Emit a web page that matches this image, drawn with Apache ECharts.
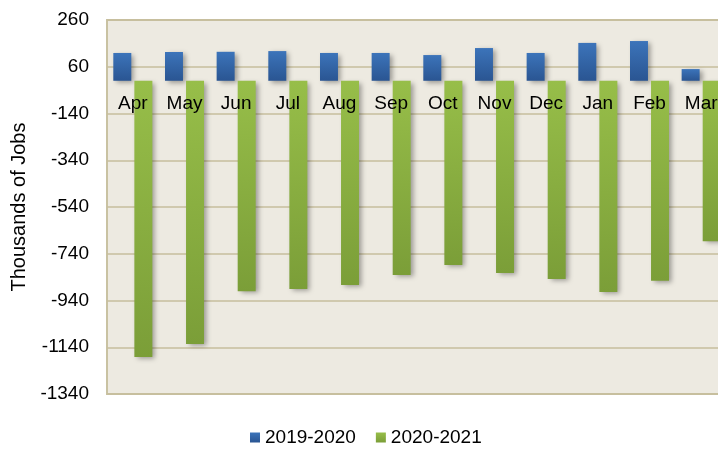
<!DOCTYPE html>
<html>
<head>
<meta charset="utf-8">
<script src="https://cdn.jsdelivr.net/npm/echarts@6/dist/echarts.min.js"></script>
<style>
  html, body { margin: 0; padding: 0; background: #fff; }
  #demo { width: 718px; height: 450px; }
</style>
</head>
<body>
<div id="demo"></div>
<script>
const months = ['Apr', 'May', 'Jun', 'Jul', 'Aug', 'Sep', 'Oct', 'Nov', 'Dec', 'Jan', 'Feb', 'Mar']
const jobs1920 = [119, 123, 124, 127, 119, 119, 110, 140, 119, 162, 170, 50]
const jobs2021 = [-1182, -1126, -900, -891, -874, -831, -788, -822, -848, -904, -856, -686]
const seriesNames = ['2019-2020', '2020-2021']

const font = 'Liberation Sans, Arial, sans-serif'

// y range of the plot, plot box in px
const yMin = -1340
const yMax = 260
const gridTop = 20
const gridBottom = 56
const plotH = 450 - gridTop - gridBottom
// move the category axis up from the bottom edge to the zero line
const zeroOffset = -plotH * (0 - yMin) / (yMax - yMin)

function grad(top, bottom) {
  return new echarts.graphic.LinearGradient(0, 0, 0, 1, [
    { offset: 0, color: top },
    { offset: 1, color: bottom },
  ])
}

const barShadow = {
  shadowColor: 'rgba(0,0,0,0.35)',
  shadowBlur: 5,
  shadowOffsetX: 3,
  shadowOffsetY: 2,
}

const option = {
  backgroundColor: '#fff',
  animation: false,
  textStyle: { fontFamily: font },
  grid: {
    left: 107,
    top: gridTop,
    width: 620, // plot runs past the right edge of the picture
    bottom: gridBottom,
    outerBoundsMode: 'none',
    containLabel: false,
    show: true,
    backgroundColor: '#EDEAE1',
    borderColor: '#C9C2A2',
    borderWidth: 2,
  },
  legend: {
    data: seriesNames,
    left: 245,
    top: 423,
    itemWidth: 10,
    itemHeight: 10,
    itemGap: 20,
    icon: 'rect',
    textStyle: { fontSize: 19, color: '#000', fontFamily: font },
  },
  xAxis: {
    type: 'category',
    data: months,
    z: 10,
    position: 'bottom',
    offset: zeroOffset,
    axisLine: { show: false, onZero: false },
    axisTick: { show: false },
    axisLabel: { fontSize: 19, color: '#000', margin: 13, fontFamily: font },
    splitLine: { show: false },
  },
  yAxis: {
    type: 'value',
    min: yMin,
    max: yMax,
    interval: 200,
    name: 'Thousands of Jobs',
    nameLocation: 'middle',
    nameGap: 78,
    nameTextStyle: { fontSize: 20, color: '#000', fontFamily: font },
    axisLine: { show: false },
    axisTick: { show: false },
    axisLabel: {
      fontSize: 19,
      color: '#000',
      margin: 18,
      fontFamily: font,
      formatter: v => String(v),
    },
    splitLine: { lineStyle: { color: '#C6BE9C', width: 1.5 } },
  },
  series: [
    {
      name: seriesNames[0],
      type: 'bar',
      data: jobs1920,
      barWidth: 18,
      barGap: '17%',
      itemStyle: Object.assign({ color: grad('#3C74BA', '#2A5592') }, barShadow),
    },
    {
      name: seriesNames[1],
      type: 'bar',
      data: jobs2021,
      barWidth: 18,
      itemStyle: Object.assign({ color: grad('#97BE49', '#7B9E38') }, barShadow),
    },
  ],
}

const myCharts = echarts.init(document.getElementById('demo'))
myCharts.setOption(option)
</script>
</body>
</html>
